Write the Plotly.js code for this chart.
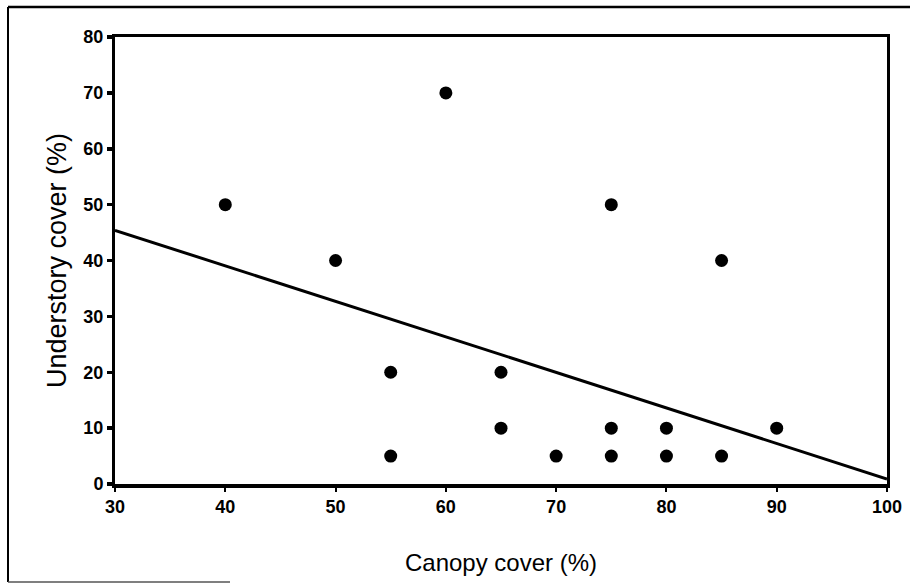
<!DOCTYPE html>
<html>
<head>
<meta charset="utf-8">
<script src="https://cdn.plot.ly/plotly-3.0.1.min.js"></script>
<style>
  html, body { margin: 0; padding: 0; background: #fff; }
  #chart { width: 910px; height: 586px; }
</style>
</head>
<body>
<div id="chart"></div>
<script>
// Canopy cover vs. understory cover for the sampled plots
const canopyCover = [40, 50, 60, 75, 85, 55, 65, 65, 75, 80, 90, 55, 70, 75, 80, 85];
const understoryCover = [50, 40, 70, 50, 40, 20, 20, 10, 10, 10, 10, 5, 5, 5, 5, 5];

// Fitted least-squares line, drawn across the x range
const fitX = [30, 100];
const fitY = [45.4, 0.9];

const xTicks = [30, 40, 50, 60, 70, 80, 90, 100];
const yTicks = [0, 10, 20, 30, 40, 50, 60, 70, 80];

const W = 910, H = 586;
const M = { l: 115, r: 23, t: 37, b: 102 };
const pw = W - M.l - M.r, ph = H - M.t - M.b;
const px = v => (v - M.l) / pw;          // page x -> paper x
const py = v => (H - M.b - v) / ph;      // page y -> paper y

const font = { family: 'Liberation Sans, Arial, sans-serif', color: '#000' };
const tickFont = Object.assign({ size: 18, weight: 'bold' }, font);

const traces = [
  {
    x: fitX, y: fitY, mode: 'lines', type: 'scatter',
    line: { color: '#000', width: 3 }, hoverinfo: 'skip'
  },
  {
    x: canopyCover, y: understoryCover, mode: 'markers', type: 'scatter',
    marker: { color: '#000', size: 13, line: { width: 0 } }
  }
];

const layout = {
  width: W, height: H,
  margin: M,
  paper_bgcolor: '#fff', plot_bgcolor: '#fff',
  showlegend: false,
  font: Object.assign({ size: 18 }, font),
  xaxis: {
    range: [30, 100], tickvals: xTicks, ticktext: xTicks.map(String),
    showgrid: false, zeroline: false,
    showline: true, linecolor: '#000', linewidth: 3.5, mirror: true,
    ticks: 'outside', ticklen: 4, tickwidth: 2, tickcolor: '#000',
    tickfont: tickFont,
    title: { text: 'Canopy cover (%)', font: Object.assign({ size: 24 }, font), standoff: 39 },
    automargin: false
  },
  yaxis: {
    range: [0, 80], tickvals: yTicks, ticktext: yTicks.map(String),
    showgrid: false, zeroline: false,
    showline: true, linecolor: '#000', linewidth: 3, mirror: true,
    ticks: 'outside', ticklen: 5, tickwidth: 3.5, tickcolor: '#000',
    tickfont: tickFont,
    title: { text: 'Understory cover (%)', font: Object.assign({ size: 27 }, font), standoff: 9 },
    automargin: false
  },
  shapes: [
    // outer figure frame (left and top edges, partial bottom rule)
    { type: 'line', xref: 'paper', yref: 'paper', x0: px(8), x1: px(8), y0: py(7), y1: py(582),
      line: { color: '#000', width: 2 } },
    { type: 'line', xref: 'paper', yref: 'paper', x0: px(8), x1: px(912), y0: py(7), y1: py(7),
      line: { color: '#000', width: 2.5 } },
    { type: 'line', xref: 'paper', yref: 'paper', x0: px(8), x1: px(230), y0: py(582), y1: py(582),
      line: { color: '#555', width: 1.5 } }
  ]
};

Plotly.newPlot('chart', traces, layout, { displayModeBar: false, staticPlot: true });
</script>
</body>
</html>
